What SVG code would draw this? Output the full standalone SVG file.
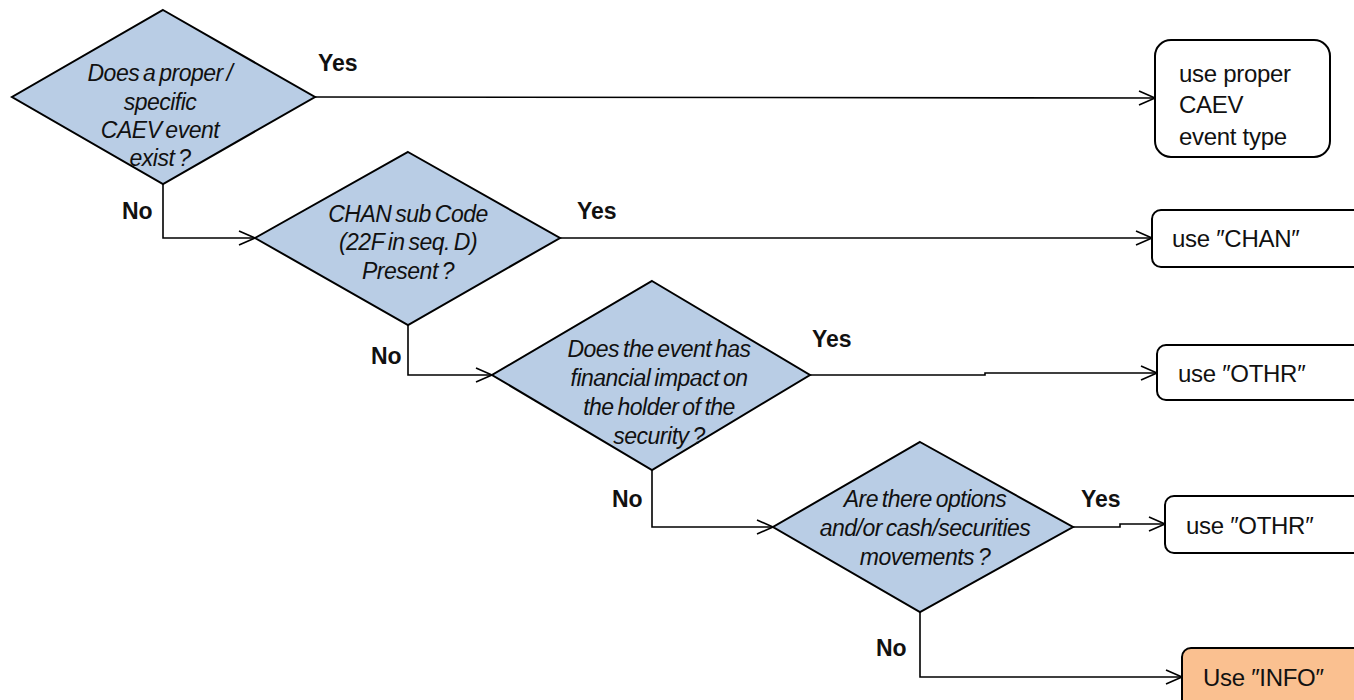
<svg xmlns="http://www.w3.org/2000/svg" width="1354" height="700" viewBox="0 0 1354 700">
<style>
.dia{fill:#B9CDE5;stroke:#000;stroke-width:2}
.box{fill:#fff;stroke:#000;stroke-width:2}
.q{font-family:"Liberation Sans",Arial,sans-serif;font-style:italic;font-size:23px;fill:#111;text-anchor:middle;letter-spacing:-0.5px;word-spacing:-2px}
.t{font-family:"Liberation Sans",Arial,sans-serif;font-size:24px;fill:#111;letter-spacing:-0.3px}
.lab{font-family:"Liberation Sans",Arial,sans-serif;font-weight:bold;font-size:23px;fill:#111}
.c{fill:none;stroke:#000;stroke-width:1.6}
</style>
<defs>
<marker id="ar" markerWidth="20" markerHeight="20" refX="18" refY="8" orient="auto" markerUnits="userSpaceOnUse">
<path d="M2,1 L18,8 L2,15" fill="none" stroke="#000" stroke-width="1.6"/>
</marker>
</defs>
<rect width="1354" height="700" fill="#fff"/>
<g id="connectors">
<path class="c" d="M315,97 L1155,98" marker-end="url(#ar)"/>
<path class="c" d="M163,184 L163,238 L255,238" marker-end="url(#ar)"/>
<path class="c" d="M560,238 L1152,238" marker-end="url(#ar)"/>
<path class="c" d="M408,325 L408,375 L492,375" marker-end="url(#ar)"/>
<path class="c" d="M810,375 L985,375 L985,373 L1157,373" marker-end="url(#ar)"/>
<path class="c" d="M652,470 L652,527 L773,527" marker-end="url(#ar)"/>
<path class="c" d="M1073,527 L1120,527 L1120,524 L1165,524" marker-end="url(#ar)"/>
<path class="c" d="M920,612 L920,677 L1182,677" marker-end="url(#ar)"/>
<text class="lab" x="318" y="71">Yes</text>
<text class="lab" x="122" y="219">No</text>
<text class="lab" x="577" y="219">Yes</text>
<text class="lab" x="371" y="364">No</text>
<text class="lab" x="812" y="347">Yes</text>
<text class="lab" x="612" y="507">No</text>
<text class="lab" x="1081" y="507">Yes</text>
<text class="lab" x="876" y="656">No</text>
</g>
<g id="d1">
<polygon class="dia" points="163,10 315,97 163,184 12,97"/>
<text class="q" x="160" y="81">Does a proper /</text>
<text class="q" x="160" y="110">specific</text>
<text class="q" x="160" y="138">CAEV event</text>
<text class="q" x="160" y="166">exist ?</text>
</g>
<g id="d2">
<polygon class="dia" points="408,152 560,238 408,325 255,238"/>
<text class="q" x="408" y="222">CHAN sub Code</text>
<text class="q" x="408" y="250">(22F in seq. D)</text>
<text class="q" x="408" y="279">Present ?</text>
</g>
<g id="d3">
<polygon class="dia" points="652,281 810,375 652,470 492,375"/>
<text class="q" x="659" y="357">Does the event has</text>
<text class="q" x="659" y="386">financial impact on</text>
<text class="q" x="659" y="415">the holder of the</text>
<text class="q" x="659" y="444">security ?</text>
</g>
<g id="d4">
<polygon class="dia" points="920,442 1073,527 920,612 773,527"/>
<text class="q" x="925" y="507">Are there options</text>
<text class="q" x="925" y="536">and/or cash/securities</text>
<text class="q" x="925" y="565">movements ?</text>
</g>
<g id="b1">
<rect class="box" x="1155" y="40" width="175" height="117" rx="16"/>
<text class="t" x="1179" y="82">use proper</text>
<text class="t" x="1179" y="113">CAEV</text>
<text class="t" x="1179" y="145">event type</text>
</g>
<g id="b2">
<rect class="box" x="1152" y="210" width="215" height="57" rx="9"/>
<text class="t" x="1172" y="247">use ″CHAN″</text>
</g>
<g id="b3">
<rect class="box" x="1157" y="345" width="210" height="55" rx="9"/>
<text class="t" x="1178" y="382">use ″OTHR″</text>
</g>
<g id="b4">
<rect class="box" x="1165" y="496" width="200" height="57" rx="9"/>
<text class="t" x="1186" y="534">use ″OTHR″</text>
</g>
<g id="b5">
<rect x="1182" y="648" width="190" height="70" rx="9" fill="#FAC090" stroke="#000" stroke-width="2"/>
<text class="t" x="1203" y="686">Use ″INFO″</text>
</g>
</svg>
